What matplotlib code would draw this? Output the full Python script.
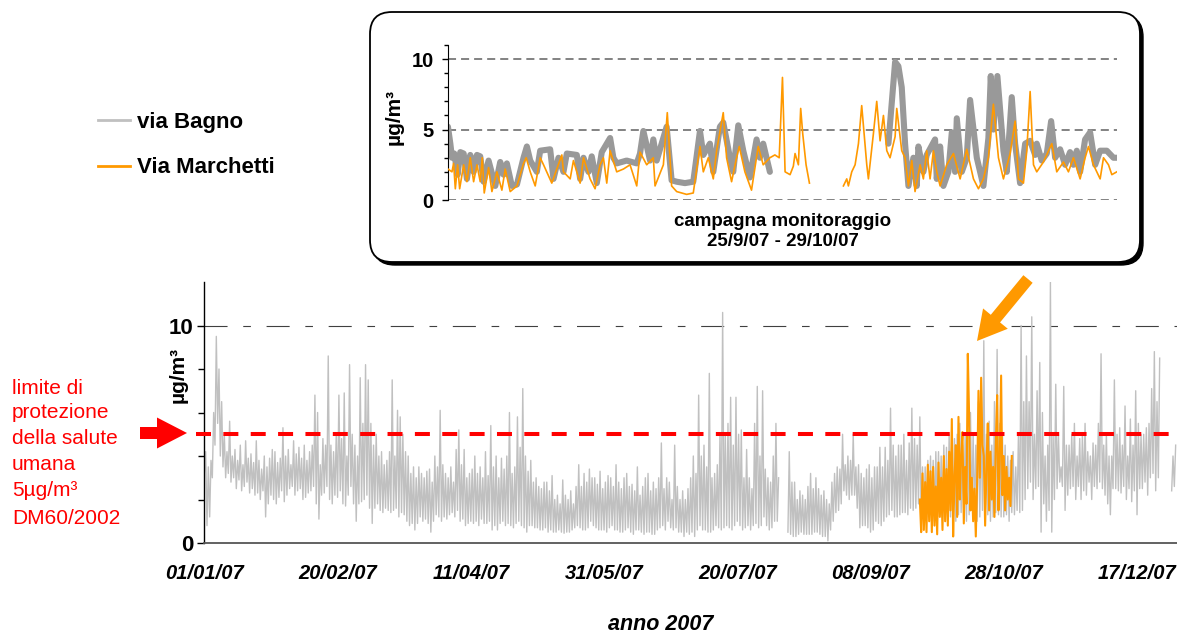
import numpy as np
import matplotlib
matplotlib.use("Agg")
import matplotlib.pyplot as plt
from matplotlib.patches import FancyBboxPatch, FancyArrow
from matplotlib.ticker import MultipleLocator

plt.rcParams['font.family'] = ['Liberation Sans', 'DejaVu Sans']
plt.rcParams['lines.scale_dashes'] = False

nan = np.nan

# --- anno 2007, via Bagno: daily low and daily high
bagno_low = [
    3.2, 0.8, 1.2, 3.0, 4.5, 5.5, 4.0, 3.5, 3.0, 3.2,
    2.8, 3.0, 2.5, 2.9, 2.4, 2.6, 2.8, 2.3, 2.5, 2.2,
    2.3, 2.0, 2.4, 1.2, 1.8, 2.2, 2.0, 1.8, 2.1, 2.4,
    1.9, 2.2, 2.5, 2.6, 2.2, 2.4, 2.5, 2.0, 2.1, 2.3,
    2.4, 2.6, 1.8, 1.1, 2.2, 2.3, 2.6, 2.0, 1.8, 2.2,
    2.1, 2.4, 1.8, 1.7, 2.2, 2.6, 1.8, 1.0, 1.8, 1.9,
    2.0, 2.2, 1.6, 0.9, 1.6, 1.8, 1.5, 1.4, 1.6, 1.5,
    1.4, 1.5, 1.6, 1.2, 1.4, 1.3, 1.0, 0.8, 0.9, 0.6,
    0.9, 1.2, 1.0, 1.1, 0.9, 0.5, 1.0, 1.3, 1.2, 1.0,
    1.2, 1.1, 1.3, 1.4, 1.2, 1.5, 1.0, 1.1, 0.8, 0.9,
    1.0, 0.9, 1.0, 0.8, 1.1, 0.9, 0.9, 1.0, 0.6, 0.8,
    0.6, 0.9, 1.0, 0.8, 0.9, 0.8, 0.7, 0.9, 1.0, 0.8,
    0.7, 0.5, 0.8, 0.8, 0.7, 0.7, 0.6, 0.6, 0.7, 0.5,
    0.6, 0.5, 0.5, 0.6, 0.5, 0.45, 0.5, 0.5, 0.6, 0.7,
    0.8, 0.7, 0.6, 0.6, 0.7, 1.0, 0.8, 0.7, 0.6, 0.6,
    0.6, 0.5, 0.7, 0.8, 0.6, 0.6, 0.5, 0.5, 0.6, 0.7,
    0.5, 0.4, 0.6, 0.6, 0.5, 0.4, 0.5, 0.5, 0.4, 0.4,
    0.6, 0.7, 0.8, 0.6, 1.0, 0.7, 0.6, 0.7, 0.5, 0.5,
    0.3, 0.5, 0.4, 0.5, 0.3, 0.6, 0.8, 0.6, 0.6, 0.5,
    0.5, 0.6, 0.8, 0.7, 0.6, 0.7, 0.8, 0.7, 0.6, 0.8,
    1.0, 0.8, 0.6, 0.7, 0.8, 0.6, 0.8, 0.9, 0.7, 0.8,
    1.2, 0.8, 0.6, 0.7, 1.0, 1.0, nan, nan, nan, 0.5,
    0.4, 0.3, 0.3, 0.4, 0.5, 0.4, 0.4, 0.4, 0.4, 0.5,
    0.5, 0.4, 0.3, 0.3, 0.1, 0.6, 1.0, 1.4, 1.5, 1.8,
    2.4, 2.2, 2.0, 2.2, 2.2, 1.6, 0.7, 0.8, 0.8, 0.7,
    0.5, 0.6, 1.0, 0.9, 0.8, 1.0, 1.2, 1.3, 1.5, 1.2,
    1.2, 1.3, 1.4, 1.4, 1.3, 1.6, 1.5, 1.6, 1.8, 1.2,
    1.0, 1.2, 1.2, 1.0, 1.0, 1.3, 1.3, 1.2, 1.0, 1.1,
    1.2, 1.1, 1.0, 1.3, 1.4, 1.2, 1.0, 1.3, 1.5, 1.2,
    1.0, 1.2, 1.5, 1.2, 1.3, 1.0, 1.2, 1.4, 1.3, 1.2,
    1.2, 1.3, 1.0, 1.4, 1.3, 1.5, 1.4, 1.5, 2.0, 2.5,
    2.8, 2.0, 2.5, 2.6, 0.5, 1.8, 1.0, 1.5, 0.5, 2.0,
    2.5, 2.8, 2.6, 1.5, 2.2, 2.5, 2.6, 2.0, 2.6, 2.0,
    2.4, 2.2, 2.8, 2.0, 2.6, 2.5, 2.8, 2.5, 2.2, 1.8,
    1.3, 2.5, 2.5, 2.4, 2.3, 2.6, 2.0, 2.5, 1.9, 2.4,
    1.3, 2.5, 2.5, 2.8, 2.2, 3.0, 3.2, 2.4, 3.0, nan,
    nan, nan, nan, 2.4, 2.6,
]
bagno_high = [
    4.2, 3.5, 3.8, 6.0, 9.5, 8.0, 6.5, 5.0, 4.2, 5.6,
    4.0, 4.3, 3.8, 4.5, 3.6, 4.7, 3.9, 4.1, 3.7, 4.7,
    3.8, 3.4, 4.0, 3.5, 3.9, 4.3, 4.2, 3.7, 3.9, 5.3,
    4.0, 4.3, 3.6, 4.7, 4.1, 4.4, 3.9, 4.5, 3.8, 4.2,
    4.5, 6.8, 6.0, 3.6, 4.8, 4.5, 8.6, 4.5, 4.2, 5.0,
    6.8, 4.8, 6.9, 4.0, 8.2, 5.0, 4.5, 4.0, 7.6, 5.5,
    8.2, 7.5, 5.5, 4.5, 5.0, 4.0, 4.2, 3.6, 3.8, 4.2,
    7.5, 4.0, 6.1, 5.8, 5.0, 4.2, 4.0, 3.2, 3.5, 3.0,
    3.5, 3.2, 3.0, 3.3, 3.4, 2.8, 4.0, 3.5, 6.1, 3.6,
    3.2, 3.0, 3.5, 2.8, 4.3, 5.2, 3.6, 4.3, 3.0, 3.2,
    3.4, 4.0, 3.2, 3.5, 3.0, 4.2, 3.1, 5.4, 3.5, 4.0,
    3.0, 3.9, 3.4, 4.0, 6.0, 3.2, 3.5, 5.8, 4.4, 7.1,
    4.0, 3.3, 3.8, 2.8, 3.0, 2.6, 2.5, 2.8, 2.8, 2.4,
    3.1, 2.0, 2.2, 1.8, 2.9, 2.2, 2.0, 2.4, 1.8, 2.6,
    3.6, 2.6, 3.2, 2.8, 3.4, 3.0, 3.0, 2.7, 3.3, 2.5,
    2.8, 3.1, 3.0, 2.6, 3.6, 2.8, 2.5, 3.0, 3.2, 2.6,
    2.7, 2.4, 3.5, 2.2, 2.6, 3.0, 3.2, 2.4, 2.8, 2.5,
    3.0, 4.6, 2.5, 3.0, 2.8, 2.0, 4.5, 2.6, 2.0, 2.4,
    2.0, 2.5, 3.0, 4.0, 3.2, 6.8, 4.0, 4.5, 3.5, 7.8,
    3.0, 3.2, 3.6, 5.0, 10.6, 5.0, 5.5, 6.7, 4.5, 6.7,
    5.0, 5.2, 3.0, 4.3, 3.0, 2.5, 5.5, 7.2, 4.0, 7.0,
    3.4, 3.0, 2.8, 4.0, 5.5, 3.0, nan, nan, nan, 4.2,
    2.8, 2.8, 2.0, 2.4, 2.2, 2.0, 2.6, 3.2, 2.5, 3.0,
    2.5, 2.2, 2.4, 2.0, 1.8, 2.8, 3.2, 3.5, 3.4, 5.0,
    3.6, 4.0, 3.8, 5.0, 3.5, 3.6, 3.2, 3.0, 3.4, 3.6,
    3.0, 3.5, 3.5, 4.4, 3.5, 4.4, 3.8, 6.2, 4.5, 4.0,
    4.5, 4.5, 5.0, 3.8, 4.6, 6.2, 4.8, 4.5, 5.8, 3.5,
    3.5, 3.8, 4.0, 3.8, 4.2, 4.2, 4.0, 4.5, 4.4, 5.0,
    4.6, 4.8, 5.0, 5.5, 4.5, 5.0, 5.2, 6.0, 5.0, 4.5,
    6.5, 5.5, 9.3, 5.0, 5.6, 4.5, 6.5, 8.9, 5.5, 5.0,
    4.5, 4.0, 3.8, 4.2, 3.5, 5.0, 10.0, 6.5, 8.6, 6.5,
    10.4, 5.0, 7.0, 8.3, 6.0, 4.0, 4.5, 12.0, 5.0, 7.3,
    5.0, 3.5, 7.2, 4.5, 4.5, 5.0, 5.5, 4.0, 4.8, 5.0,
    5.5, 4.2, 4.0, 4.6, 4.5, 5.5, 8.7, 4.5, 5.0, 4.0,
    4.0, 7.5, 5.0, 5.3, 4.5, 6.3, 4.0, 5.7, 4.5, 7.0,
    5.5, 5.0, 5.0, 5.3, 5.5, 7.1, 8.8, 6.5, 8.5, nan,
    nan, nan, nan, 4.0, 4.5,
]

# --- via Marchetti during the campaign, half-day values starting at day 268.5
marchetti_first_day = 268.5
marchetti_step = 0.5
marchetti_2007 = [
    2.0, 0.5, 3.2, 0.6, 2.8, 0.5, 3.6, 1.0, 3.3, 0.5,
    3.5, 0.8, 2.6, 0.4, 3.7, 1.2, 3.0, 0.6, 4.0, 1.0,
    3.4, 0.8, 4.2, 1.5, 5.7, 0.3, 3.0, 4.5, 1.2, 5.8,
    2.0, 4.0, 5.1, 0.9, 3.5, 1.8, 8.7, 5.8, 1.5, 3.0,
    1.0, 2.5, 0.3, 2.8, 7.0, 3.0, 7.6, 4.5, 4.0, 0.8,
    3.5, 5.5, 1.5, 4.2, 2.0, 3.5, 1.2, 4.5, 6.8, 1.5,
    3.8, 7.7, 2.2, 4.0, 1.5, 3.5, 2.0, 3.0, 1.7, 4.0,
]

tick_days = [0, 50, 100, 150, 200, 250, 300, 350]
tick_labels = ["01/01/07", "20/02/07", "11/04/07", "31/05/07",
               "20/07/07", "08/09/07", "28/10/07", "17/12/07"]
LIMIT = 5

# --- campagna monitoraggio 25/9/07 - 29/10/07 (hours from start)
bagno_hours = [
    0, 2.9, 4.9, 7.7, 11.8, 15.1, 19.2, 23.2, 27.3, 31.4, 35.5, 39.5, 43.6,
    49.7, 57.9, 64.0, 68.1, 72.1, 78.2, 84.4, 92.5, 96.6, 100.7, 108.8,
    112.9, 125.1, 129.2, 135.3, 141.4, 145.5, 157.7, 161.8, 165.9, 172.0,
    176.0, 182.2, 188.3, 198.5, 202.5, 206.6, 218.8, 231.1, 235.1, 239.2,
    247.4, 251.4, 255.5, 267.7, 273.8, 280.0, 290.1, 300.3, 308.5, 312.6,
    320.7, 324.8, 332.9, 337.0, 345.2, 349.2, 355.4, 361.5, 369.6, 377.8,
    381.8, 385.9, 394.1, 466.0,
    539.2, 547.4, 551.4, 555.5, 559.6, 563.7, 569.8, 573.9, 575.9, 582.0,
    586.1, 596.3, 598.4, 602.5, 606.5, 612.6, 616.8, 620.8, 622.9, 629.0,
    635.1, 639.2, 647.4, 655.5, 661.6, 664.5, 667.7, 672.6, 680.0, 684.1,
    690.2, 694.3, 700.4, 706.6, 712.7, 718.8, 720.8, 726.9, 733.1, 738.4,
    743.3, 749.4, 755.5, 761.6, 765.7, 769.8, 773.9, 780.0, 786.1, 792.3,
    798.4, 806.5, 814.7, 818.8,
]
bagno_campagna = [
    5.2, 4.0, 3.0, 3.3, 1.8, 3.4, 3.3, 1.5, 3.2, 2.0, 3.2, 3.1, 1.3,
    2.8, 1.0, 2.7, 1.8, 2.6, 1.0, 1.1, 3.0, 3.8, 2.8, 2.0,
    3.5, 3.6, 1.5, 3.0, 2.0, 3.3, 3.2, 1.5, 3.0, 2.0,
    3.1, 1.2, 3.4, 4.4, 3.0, 2.6, 2.8, 2.6, 3.3, 4.9,
    2.8, 4.3, 2.8, 5.2, 1.4, 1.3, 1.2, 1.3, 4.9, 3.2,
    4.0, 2.0, 5.2, 5.5, 3.0, 2.0, 5.3, 3.5, 1.6, 4.3,
    3.0, 4.0, 2.0, nan,
    4.0, 9.8, 9.5, 8.0, 4.0, 1.0, 3.0, 1.0, 3.8, 2.0,
    3.2, 4.3, 1.5, 3.8, 1.0, 2.0, 4.8, 2.0, 5.8, 2.0,
    3.0, 7.1, 3.0, 1.0, 4.4, 8.8, 5.0, 8.8, 3.5, 2.0,
    7.3, 4.0, 1.2, 4.0, 4.2, 3.2, 4.0, 2.8, 3.3, 5.6,
    3.0, 3.6, 2.5, 3.4, 2.5, 3.5, 2.0, 4.3, 4.8, 2.5,
    3.5, 3.5, 3.0, 3.0,
]
marchetti_hours = [
    0, 4.9, 6.9, 9.0, 11.8, 14.3, 19.2, 23.2, 27.3, 31.4, 35.5, 39.5, 42.0,
    44.4, 49.7, 53.8, 59.9, 66.0, 70.1, 76.2, 84.4, 92.5, 95.8, 100.7,
    106.8, 112.9, 117.0, 127.1, 139.4, 141.4, 149.6, 153.6, 161.8, 165.9,
    174.0, 180.1, 186.2, 190.3, 194.4, 198.5, 206.6, 214.8, 222.9, 231.1,
    235.1, 243.3, 251.4, 253.5, 263.7, 268.5, 273.8, 280.0, 292.2, 300.3,
    308.5, 312.6, 318.7, 324.8, 328.9, 337.0, 341.1, 347.2, 353.3, 356.6,
    363.5, 371.6, 379.8, 385.9, 394.1, 400.2, 405.5, 409.5, 412.7, 418.8,
    422.8, 424.9, 429.0, 431.8, 434.3, 438.4, 442.5, 463.0,
    484.1, 488.2, 490.2, 494.3, 498.4, 502.5, 506.5, 512.7, 514.7, 520.8,
    524.9, 529.0, 533.1, 537.2, 541.2, 547.4, 549.4, 555.5, 559.6, 563.7,
    567.8, 571.8, 578.0, 582.0, 586.1, 590.2, 594.3, 598.4, 602.5, 610.6,
    618.8, 627.0, 635.1, 643.3, 649.4, 655.5, 661.6, 667.7, 673.9, 680.0,
    688.2, 694.3, 698.4, 704.5, 708.6, 712.7, 716.8, 720.8, 729.0, 739.2,
    745.3, 753.5, 759.6, 765.7, 773.9, 780.0, 784.1, 790.2, 798.4, 802.5,
    808.6, 812.7, 818.8,
]
marchetti_campagna = [
    2.2, 2.0, 2.6, 0.8, 2.5, 0.8, 2.5, 1.3, 3.0, 1.3, 2.5, 1.3, 3.0,
    0.5, 2.3, 0.6, 2.0, 0.7, 2.2, 0.6, 1.0, 2.6, 3.0, 2.0,
    1.0, 3.0, 2.5, 1.2, 3.2, 2.0, 1.5, 2.8, 1.2, 3.0,
    1.5, 0.8, 2.5, 3.0, 1.2, 3.5, 2.0, 2.2, 2.5, 1.0,
    3.4, 2.5, 3.0, 1.0, 2.5, 6.2, 1.0, 0.6, 0.4, 0.5,
    3.8, 2.0, 3.0, 1.5, 3.5, 6.2, 3.0, 1.3, 3.0, 3.8,
    2.0, 0.7, 3.8, 2.5, 3.0, 3.2, 3.0, 8.7, 2.0, 1.8,
    2.4, 3.3, 2.5, 6.5, 4.7, 2.5, 1.2, nan,
    1.0, 1.5, 1.0, 2.0, 2.5, 4.0, 6.7, 2.5, 1.5, 4.7,
    7.0, 4.2, 6.0, 3.5, 3.0, 4.5, 6.5, 3.5, 3.0, 1.0,
    2.8, 0.6, 2.5, 1.5, 3.5, 1.5, 3.5, 2.0, 1.0, 2.5,
    3.3, 1.5, 3.6, 1.5, 0.8, 1.5, 3.0, 6.8, 3.0, 1.5,
    3.3, 5.6, 1.5, 1.2, 3.5, 7.7, 2.5, 2.0, 2.7, 4.0,
    2.0, 2.7, 2.0, 3.0, 1.5, 3.0, 3.8, 2.5, 1.5, 3.0,
    2.5, 1.8, 2.0,
]

GRAY = '#c0c0c0'
DARKGRAY = '#999999'
ORANGE = '#ff9900'

fig = plt.figure(figsize=(11.77, 6.34), dpi=100)

# ---------------- main chart
ax = fig.add_axes([0.1736, 0.1435, 0.8264, 0.4117])
ax.patch.set_alpha(0)

# daily low then daily high, half a day apart
n_days = len(bagno_low)
days = np.column_stack([np.arange(n_days), np.arange(n_days) + 0.5]).ravel()
bagno_vals = np.column_stack([bagno_low, bagno_high]).ravel()
mdays = marchetti_first_day + marchetti_step * np.arange(len(marchetti_2007))

l_bagno, = ax.plot(days, bagno_vals, color=GRAY, lw=1.0, zorder=2)
l_march, = ax.plot(mdays, marchetti_2007, color=ORANGE, lw=1.5, zorder=3)
ax.axhline(10, color='#404040', lw=0.8, dashes=(16.6, 11.3, 5.5, 11.3), zorder=1)
ax.plot([-3.1, 365], [LIMIT, LIMIT], color='red', lw=2.9, dashes=(10.8, 8.9),
        clip_on=False, zorder=4)

ax.set_xlim(0, 365)
ax.set_ylim(0, 12)
ax.set_yticks([0, 10])
ax.set_yticks([2, 4, 6, 8], minor=True)
ax.tick_params(axis='y', which='major', length=5, width=1, pad=3, labelsize=16)
ax.tick_params(axis='y', which='minor', length=4.3, width=1)
for lab in ax.get_yticklabels():
    lab.set_fontweight('bold')
ax.set_xticks(tick_days, tick_labels, fontsize=14.5, fontweight='bold', fontstyle='italic')
ax.tick_params(axis='x', length=0, pad=15)
ax.spines['top'].set_visible(False)
ax.spines['right'].set_visible(False)
ax.spines['left'].set_linewidth(1.0)
ax.spines['bottom'].set_color('#555555')
ax.spines['bottom'].set_linewidth(1.3)
ax.set_ylabel('µg/m³', fontsize=15, fontweight='bold')
ax.yaxis.set_label_coords(-0.017, 0.644)

fig.text(661 / 1177, 1 - 625 / 634, 'anno 2007', fontsize=15.5, fontweight='bold',
         fontstyle='italic', ha='center', va='center')

# note in red at left
red_lines = ['limite di', 'protezione', 'della salute', 'umana', '5µg/m³', 'DM60/2002']
red_y = [388, 413, 439, 464, 491, 518]
for txt, yy in zip(red_lines, red_y):
    fig.text(12 / 1177, 1 - yy / 634, txt, color='red', fontsize=15, va='center')

fig.add_artist(FancyArrow(1.40, 2.01, 0.47, 0, width=0.12, head_width=0.31,
                          head_length=0.30, length_includes_head=True,
                          color='red', lw=0, transform=fig.dpi_scale_trans))
fig.add_artist(FancyArrow(10.28, 3.55, -0.51, -0.62, width=0.12, head_width=0.32,
                          head_length=0.29, length_includes_head=True,
                          color=ORANGE, lw=0, transform=fig.dpi_scale_trans))

# legend
leg = fig.legend([l_bagno, l_march], ['via Bagno', 'Via Marchetti'],
                 loc='upper left', bbox_to_anchor=(98 / 1177, 1 - 112 / 634),
                 frameon=False, borderpad=0, borderaxespad=0,
                 handlelength=1.45, handletextpad=0.3, labelspacing=1.1,
                 prop={'size': 16, 'weight': 'bold'})
for line in leg.get_lines():
    line.set_linewidth(2)

# ---------------- inset box
shadow = FancyBboxPatch((3.73, 3.69), 7.70, 2.50, boxstyle='round,pad=0,rounding_size=0.22',
                        transform=fig.dpi_scale_trans, fc='black', ec='black', lw=1,
                        zorder=0.4)
box = FancyBboxPatch((3.70, 3.72), 7.70, 2.50, boxstyle='round,pad=0,rounding_size=0.22',
                     transform=fig.dpi_scale_trans, fc='white', ec='black', lw=1.3,
                     zorder=0.5)
fig.add_artist(shadow)
fig.add_artist(box)

iax = fig.add_axes([0.3806, 0.6845, 0.5684, 0.2445], zorder=3)
iax.patch.set_alpha(0)
for yy in (0, 5, 10):
    iax.axhline(yy, color='#606060', lw=1.1, dashes=(5.8, 3.6), zorder=0)
iax.plot(bagno_hours, bagno_campagna, color=DARKGRAY, lw=4.4,
         solid_joinstyle='round', solid_capstyle='round', zorder=2)
iax.plot(marchetti_hours, marchetti_campagna, color=ORANGE, lw=1.2, zorder=3)
iax.set_xlim(0, 819)
iax.set_ylim(0, 11)
iax.set_xticks([])
iax.set_yticks([0, 5, 10])
iax.yaxis.set_minor_locator(MultipleLocator(1))
iax.tick_params(axis='y', which='major', length=4.3, width=1, pad=6, labelsize=14.5)
iax.tick_params(axis='y', which='minor', length=2.7, width=1)
for lab in iax.get_yticklabels():
    lab.set_fontweight('bold')
for s in ('top', 'right', 'bottom'):
    iax.spines[s].set_visible(False)
iax.set_xlabel('campagna monitoraggio\n25/9/07 - 29/10/07', fontsize=13.5,
               fontweight='bold', labelpad=9, linespacing=1.3)
iax.set_ylabel('µg/m³', fontsize=15, fontweight='bold')
iax.yaxis.set_label_coords(-0.067, 0.535)

fig.savefig('out.png', dpi=100)
